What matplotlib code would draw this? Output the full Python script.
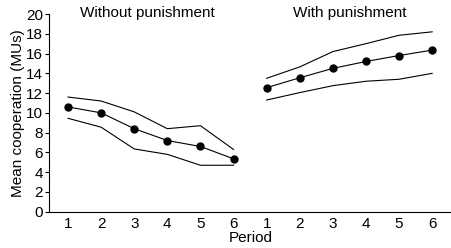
import numpy as np
from matplotlib import pyplot as plt

plt.rcParams['font.family'] = ['Liberation Sans', 'DejaVu Sans']

periods = [1, 2, 3, 4, 5, 6]
tick_labels = [str(p) for p in periods] * 2

# without punishment
wo_mean = [10.6, 10.0, 8.4, 7.2, 6.6, 5.35]
wo_upper = [11.6, 11.2, 10.1, 8.4, 8.7, 6.3]
wo_lower = [9.45, 8.55, 6.35, 5.8, 4.7, 4.7]

# with punishment
w_mean = [12.55, 13.55, 14.5, 15.2, 15.8, 16.35]
w_upper = [13.5, 14.65, 16.2, 17.0, 17.85, 18.2]
w_lower = [11.3, 12.05, 12.75, 13.2, 13.4, 14.0]

x_left = np.array(periods)
x_right = np.array(periods) + 6

fs = 11

fig = plt.figure(figsize=(4.52, 2.48), dpi=100)
ax = fig.add_axes([0.1095, 0.1464, 0.8905, 0.797])

for x, m, u, l in [(x_left, wo_mean, wo_upper, wo_lower),
                   (x_right, w_mean, w_upper, w_lower)]:
    ax.plot(x, u, color='black', lw=0.8)
    ax.plot(x, l, color='black', lw=0.8)
    ax.plot(x, m, color='black', lw=0.8, marker='o', markersize=5)

ax.set_xlim(0.44, 12.6)
ax.set_ylim(0, 20)
ax.set_yticks(np.arange(0, 21, 2))
ax.set_xticks(np.concatenate([x_left, x_right]))
ax.set_xticklabels(tick_labels)
ax.tick_params(axis='x', length=0, pad=4, labelsize=fs)
ax.tick_params(axis='y', length=3, width=0.8, pad=1.5, labelsize=fs)

for s in ['top', 'right']:
    ax.spines[s].set_visible(False)
for s in ['left', 'bottom']:
    ax.spines[s].set_linewidth(0.8)

ax.set_xlabel('Period', fontsize=fs, labelpad=0)
ax.set_ylabel('Mean cooperation (MUs)', fontsize=fs, labelpad=1)

ax.text(3.4, 20.15, 'Without punishment', ha='center', va='center', fontsize=fs)
ax.text(9.5, 20.15, 'With punishment', ha='center', va='center', fontsize=fs)

fig.savefig('out.png', dpi=100)
